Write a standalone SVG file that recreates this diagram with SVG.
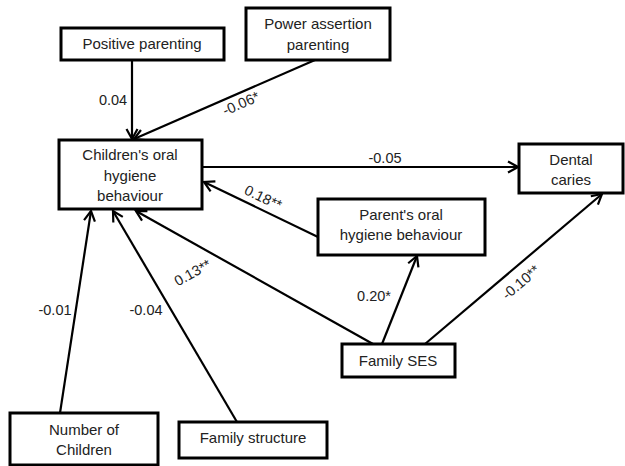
<svg xmlns="http://www.w3.org/2000/svg" width="625" height="466" viewBox="0 0 625 466">
<style>
.box{fill:#fff;stroke:#000;stroke-width:3}
.t{font-family:"Liberation Sans",Arial,sans-serif;font-size:15px;fill:#222;text-anchor:middle}
.l{font-family:"Liberation Sans",Arial,sans-serif;font-size:14.5px;fill:#222;text-anchor:middle}
.c{stroke:#000;stroke-width:2.2;fill:none;marker-end:url(#ah)}
</style>
<defs>
<marker id="ah" markerUnits="userSpaceOnUse" markerWidth="14" markerHeight="14" viewBox="0 0 14 14" refX="12" refY="7" orient="auto">
<path d="M2,1.5 L12,7 L2,12.5" fill="none" stroke="#000" stroke-width="2.2"/>
</marker>
</defs>
<rect width="625" height="466" fill="#fff"/>
<g id="connectors">
<line class="c" x1="132" y1="60" x2="132" y2="139"/>
<line class="c" x1="315" y1="60" x2="134" y2="139"/>
<line class="c" x1="202" y1="167" x2="518" y2="167"/>
<line class="c" x1="318" y1="237" x2="204" y2="182"/>
<line class="c" x1="373" y1="344" x2="136" y2="211"/>
<line class="c" x1="382" y1="344" x2="417" y2="256"/>
<line class="c" x1="425" y1="344" x2="602" y2="194"/>
<line class="c" x1="60" y1="413" x2="91" y2="211"/>
<line class="c" x1="237" y1="422" x2="113" y2="211"/>
<text class="l" x="113" y="105">0.04</text>
<text class="l" transform="translate(243,108) rotate(-24)">-0.06*</text>
<text class="l" x="385" y="163">-0.05</text>
<text class="l" transform="translate(261,202) rotate(25.6)">0.18**</text>
<text class="l" transform="translate(195,277) rotate(-29)">0.13**</text>
<text class="l" x="55" y="315">-0.01</text>
<text class="l" x="146" y="315">-0.04</text>
<text class="l" x="374" y="301">0.20*</text>
<text class="l" transform="translate(524,286) rotate(-40.5)">-0.10**</text>
</g>
<g id="positive-parenting">
<rect class="box" x="61" y="28" width="163" height="32"/>
<text class="t" x="142" y="49">Positive parenting</text>
</g>
<g id="power-assertion">
<rect class="box" x="246" y="8" width="144" height="52"/>
<text class="t" x="318" y="29">Power assertion</text>
<text class="t" x="318" y="50">parenting</text>
</g>
<g id="childrens-ohb">
<rect class="box" x="59" y="140" width="143" height="69"/>
<text class="t" x="130" y="160">Children's oral</text>
<text class="t" x="130" y="181">hygiene</text>
<text class="t" x="130" y="201">behaviour</text>
</g>
<g id="dental-caries">
<rect class="box" x="519" y="144" width="104" height="49"/>
<text class="t" x="571" y="165">Dental</text>
<text class="t" x="571" y="185">caries</text>
</g>
<g id="parents-ohb">
<rect class="box" x="318" y="199" width="167" height="56"/>
<text class="t" x="401" y="220">Parent's oral</text>
<text class="t" x="401" y="240">hygiene behaviour</text>
</g>
<g id="family-ses">
<rect class="box" x="342" y="344" width="113" height="33"/>
<text class="t" x="398" y="366">Family SES</text>
</g>
<g id="number-of-children">
<rect class="box" x="10" y="413" width="148" height="52"/>
<text class="t" x="84" y="435">Number of</text>
<text class="t" x="84" y="455">Children</text>
</g>
<g id="family-structure">
<rect class="box" x="179" y="422" width="148" height="36"/>
<text class="t" x="253" y="443">Family structure</text>
</g>
</svg>
